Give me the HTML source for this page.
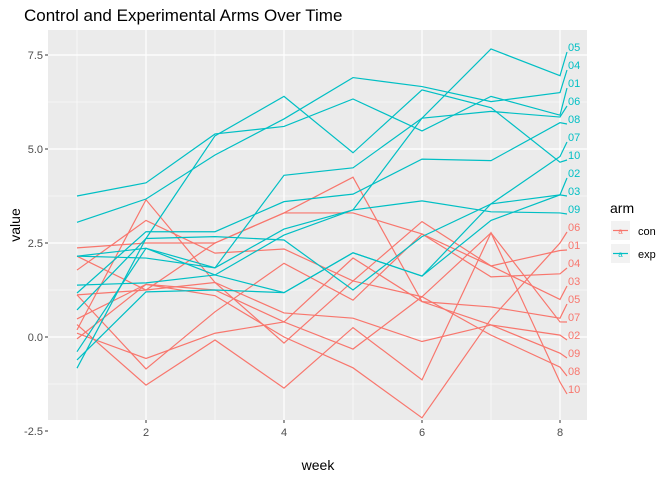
<!DOCTYPE html>
<html><head><meta charset="utf-8"><style>
body{margin:0;background:#fff;font-family:"Liberation Sans",sans-serif}
</style></head><body>
<svg id="chart" width="672" height="480" xmlns="http://www.w3.org/2000/svg" font-family="Liberation Sans, sans-serif">
<text x="24" y="21" font-size="17" fill="#000">Control and Experimental Arms Over Time</text>
<rect x="48" y="30" width="539" height="390" fill="#EBEBEB"/>
<g id="grid"></g>
<g id="series"></g>
<g id="axes"></g>
<text x="318" y="470" font-size="14" text-anchor="middle">week</text>
<text transform="translate(20,225) rotate(-90)" font-size="14" text-anchor="middle">value</text>
<g>
<text x="610" y="213" font-size="14">arm</text>
<g>
<rect x="611" y="221" width="19" height="19" fill="#F2F2F2"/>
<line x1="613" y1="230.5" x2="628" y2="230.5" stroke="#F8766D" stroke-width="1.2"/>
<text x="620.5" y="234" font-size="8" fill="#F8766D" text-anchor="middle">a</text>
<text x="638" y="235" font-size="11">con</text></g>
<g>
<rect x="611" y="244" width="19" height="19" fill="#F2F2F2"/>
<line x1="613" y1="253.5" x2="628" y2="253.5" stroke="#00BFC4" stroke-width="1.2"/>
<text x="620.5" y="257" font-size="8" fill="#00BFC4" text-anchor="middle">a</text>
<text x="638" y="258" font-size="11">exp</text></g>
</g>
</svg>
<script>
const weeks=[1,2,3,4,5,6,7,8];
const conIds=["01","02","03","04","05","06","07","08","09","10"];
const con01=[2.37,2.50,2.50,3.30,3.30,2.74,1.89,2.30];
const con02=[2.15,1.25,1.45,0.64,0.50,-0.12,0.32,0.05];
const con03=[1.78,3.10,2.23,2.34,1.49,3.07,1.89,1.00];
const con04=[1.12,-0.85,0.67,1.96,0.98,2.74,1.60,1.68];
const con05=[0.48,1.40,1.25,0.40,2.10,0.94,0.80,0.50];
const con06=[-0.05,1.40,1.10,0.00,-0.82,-2.15,0.48,2.50];
const con07=[0.19,3.65,1.45,-0.16,1.49,1.07,2.77,0.40];
const con08=[0.10,-0.57,0.10,0.40,-0.32,1.07,0.05,-0.80];
const con09=[1.12,1.25,2.50,3.30,4.25,0.94,0.32,-0.43];
const con10=[0.33,-1.28,-0.08,-1.36,0.25,-1.14,2.77,-1.20];
const exp01=[3.75,4.10,5.40,5.60,6.33,5.48,6.40,5.90];
const exp02=[1.38,1.44,1.65,1.18,2.24,1.62,3.10,3.78];
const exp03=[0.72,2.62,2.67,2.58,1.25,2.67,3.54,3.78];
const exp04=[3.05,3.67,4.84,5.80,6.90,6.66,6.26,6.50];
const exp05=[-0.39,2.36,1.84,4.30,4.50,5.82,7.66,6.95];
const exp06=[2.15,2.36,1.65,2.71,3.38,5.82,6.00,5.85];
const exp07=[-0.61,1.20,1.25,1.18,2.24,1.62,3.54,4.80];
const exp08=[1.17,2.80,2.80,3.60,3.80,4.73,4.69,5.70];
const exp09=[2.15,2.10,1.84,2.87,3.38,3.62,3.33,3.30];
const exp10=[-0.83,2.62,5.35,6.40,4.90,6.57,6.10,4.65];
const conSeries=[con01,con02,con03,con04,con05,con06,con07,con08,con09,con10];
const expSeries=[exp01,exp02,exp03,exp04,exp05,exp06,exp07,exp08,exp09,exp10];
const xTicks=[2,4,6,8];
const yTicks=[-2.5,0,2.5,5,7.5];
// label stacking order (top to bottom)
const expLabelOrder=["05","04","01","06","08","07","10","02","03","09"];
const conLabelOrder=["06","01","04","03","05","07","02","09","08","10"];

const NS="http://www.w3.org/2000/svg";
const xs=w=>77+(w-1)*69;
const ys=v=>337-v*37.6;
function mk(tag,attrs,parent){const e=document.createElementNS(NS,tag);for(const k in attrs)e.setAttribute(k,attrs[k]);parent.appendChild(e);return e;}
const grid=document.getElementById('grid'),axes=document.getElementById('axes'),ser=document.getElementById('series');
[1,3,5,7].forEach(w=>{const l=mk('line',{x1:xs(w),x2:xs(w),y1:30,y2:420,stroke:'#fff','stroke-width':0.6},grid);

});
[-1.25,1.25,3.75,6.25].forEach(v=>{const l=mk('line',{x1:48,x2:587,y1:ys(v),y2:ys(v),stroke:'#fff','stroke-width':0.6},grid);

});
xTicks.forEach(w=>{const l=mk('line',{x1:xs(w),x2:xs(w),y1:30,y2:420,stroke:'#fff','stroke-width':1.2},grid);


const t=mk('line',{x1:xs(w),x2:xs(w),y1:420,y2:423,stroke:'#333','stroke-width':1},axes);


const tx=mk('text',{x:xs(w),y:436,'font-size':11,fill:'#4D4D4D','text-anchor':'middle'},axes);tx.textContent=w;

});
yTicks.forEach(v=>{const l=mk('line',{x1:48,x2:587,y1:ys(v),y2:ys(v),stroke:'#fff','stroke-width':1.2},grid);


const t=mk('line',{x1:45,x2:48,y1:ys(v),y2:ys(v),stroke:'#333','stroke-width':1},axes);


const tx=mk('text',{x:43,y:ys(v)+4,'font-size':11,fill:'#4D4D4D','text-anchor':'end'},axes);tx.textContent=v.toFixed(1);

});
function draw(series,order,color,labelStart,arm){
  series.forEach((vals,i)=>{
    const id=conIds[i];
    const slot=order.indexOf(id);
    const ly=labelStart+slot*18;
    let pts=vals.map((v,j)=>xs(weeks[j])+','+ys(v));
    pts.push('567,'+(ly+5));
    const p=mk('polyline',{points:pts.join(' '),fill:'none',stroke:color,'stroke-width':1.2},ser);
    
    
    const t=mk('text',{x:568,y:ly+4,'font-size':11,fill:color},ser);t.textContent=id;
    
    
  });
}
draw(conSeries,conLabelOrder,'#F8766D',227,'con');
draw(expSeries,expLabelOrder,'#00BFC4',47,'exp');
</script>
</body></html>
